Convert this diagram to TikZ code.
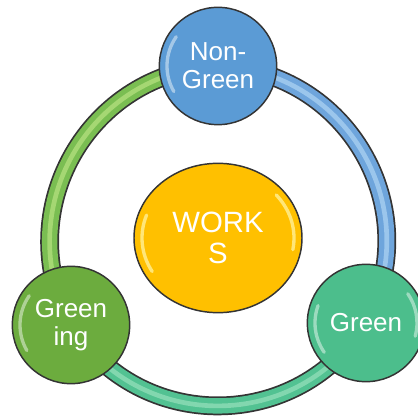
\documentclass[tikz,border=0pt]{standalone}
\usepackage{fontspec}
\setmainfont{Liberation Sans}
\usetikzlibrary{shapes.geometric,backgrounds}

\definecolor{edgeGrey}{RGB}{52,52,52}
\definecolor{ngBlue}{RGB}{91,155,213}
\definecolor{grTeal}{RGB}{76,190,140}
\definecolor{giLeaf}{RGB}{108,172,62}
\definecolor{wkGold}{RGB}{255,192,0}
\definecolor{bandLeaf}{RGB}{122,190,82}
\definecolor{shineLeaf}{RGB}{165,215,115}
\definecolor{bandTeal}{RGB}{82,194,146}
\definecolor{shineTeal}{RGB}{130,215,175}
\definecolor{bandBlue}{RGB}{110,165,220}
\definecolor{shineBlue}{RGB}{155,198,236}

\tikzset{every picture/.style={line width=0.75pt}}
\tikzset{
  ball/.style={circle, draw=edgeGrey, line width=1.1pt, minimum size=88pt, inner sep=0pt,
    text=white, align=center, font=\fontsize{19.5}{21}\selectfont},
  hubball/.style={ellipse, draw=edgeGrey, line width=1.1pt, minimum width=126pt,
    minimum height=112pt, inner sep=0pt, text=white, align=center,
    font=\fontsize{22}{23.5}\selectfont},
  band/.style={draw=edgeGrey, line width=1.3pt, double=#1, double distance=11.5pt},
  shine/.style={draw=#1, line width=3.5pt},
  gloss/.style={draw=white, line width=2.5pt, opacity=0.45, line cap=round},
}

\begin{document}
\begin{tikzpicture}[x=0.75pt,y=0.75pt,yscale=-1,xscale=1]
\useasboundingbox (0,0) rectangle (418,417);

% Text Node
\node [ball, fill=ngBlue] (nongreen) at (218,66) {Non-\\Green};
% Text Node
\node [ball, fill=giLeaf] (greening) at (71,325) {Green\\ing};
% Text Node
\node [ball, fill=grTeal] (green) at (366,323) {Green};
% Text Node
\node [hubball, fill=wkGold] (works) at (218,238) {WORK\\S};

%Shape: Gloss
\draw [gloss] (nongreen.center) ++(150:51) arc[start angle=150, end angle=215, radius=51];
\draw [gloss] (greening.center) ++(150:51) arc[start angle=150, end angle=215, radius=51];
\draw [gloss] (green.center) ++(145:51) arc[start angle=145, end angle=200, radius=51];
\draw [gloss] (green.center) ++(-35:51) arc[start angle=-35, end angle=15, radius=51];
\draw [gloss, draw={rgb,255:red,255;green,240;blue,150}, opacity=0.8] (works.center) ++(150:{76 and 67}) arc[start angle=150, end angle=200, x radius=76, y radius=67];
\draw [gloss, draw={rgb,255:red,255;green,240;blue,150}, opacity=0.8] (works.center) ++(-40:{76 and 67}) arc[start angle=-40, end angle=10, x radius=76, y radius=67];

%Curve Lines: ring
\begin{scope}[on background layer]
\draw [band=bandLeaf] (nongreen.center) to[bend left=58, looseness=1.115] (greening.center);
\draw [shine=shineLeaf] (nongreen.center) to[bend left=58, looseness=1.115] (greening.center);
\draw [band=bandTeal] (greening.center) to[bend left=58, looseness=1.115] (green.center);
\draw [shine=shineTeal] (greening.center) to[bend left=58, looseness=1.115] (green.center);
\draw [band=bandBlue] (green.center) to[bend left=58, looseness=1.115] (nongreen.center);
\draw [shine=shineBlue] (green.center) to[bend left=58, looseness=1.115] (nongreen.center);
\end{scope}

\end{tikzpicture}
\end{document}
